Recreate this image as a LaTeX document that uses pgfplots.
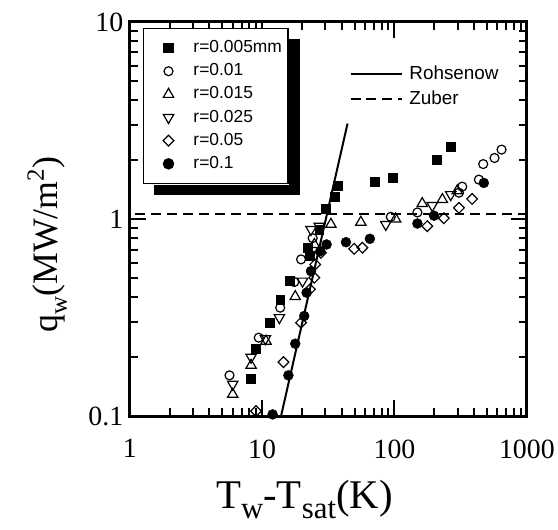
\documentclass[border=0pt]{standalone}
\usepackage{fontspec}
\setmainfont{Liberation Serif}
\newfontfamily\arial{Liberation Sans}
\usepackage{pgfplots}
\pgfplotsset{compat=1.18}
\begin{document}
\begin{tikzpicture}
\begin{axis}[name=main, scale only axis, width=398bp, height=395bp,
 xmode=log, ymode=log, xmin=1, xmax=1000, ymin=0.1, ymax=10,
 xtick={1,10,100,1000}, xticklabels={1,10,100,1000},
 ytick={0.1,1,10}, yticklabels={0.1,1,10},
 tick label style={font=\fontsize{28}{28}\selectfont},
 xticklabel style={yshift=-20bp},
 yticklabel style={xshift=-3bp},
 major tick length=16bp, minor tick length=8bp,
 tick style={black, line width=2bp},
 axis line style={line width=3bp},
 clip=false,
 xlabel={T\raisebox{-10bp}{\fontsize{31}{31}\selectfont w}-T\raisebox{-10bp}{\fontsize{31}{31}\selectfont sat}(K)},
 ylabel={q\raisebox{-9bp}{\fontsize{25}{25}\selectfont w}(MW/m\raisebox{14bp}{\fontsize{25}{25}\selectfont 2})},
 xlabel style={font=\fontsize{41}{41}\selectfont, at={(axis description cs:0.44,-0.235)}, anchor=base},
 ylabel style={font=\fontsize{36}{36}\selectfont, at={(axis description cs:-0.181,0.435)}, anchor=base},
 legend style={name=leg, at={(0.033,0.985)}, anchor=north west, draw=black, line width=1.5bp, fill=white,
   font=\arial\fontsize{17.5}{17.5}\selectfont, row sep=4.2bp, column sep=2bp,
   inner xsep=4bp, inner ysep=10bp,
   nodes={inner xsep=2bp, inner ysep=2bp, text height=12bp, text depth=3bp},
   cells={anchor=west}},
 legend cell align=left,
 legend image code/.code={\path[draw=none, fill=none] (0bp,-5bp) rectangle (42bp,5bp);
   \draw[mark repeat=2, mark phase=2, #1] plot coordinates {(0bp,0bp)(21bp,0bp)(42bp,0bp)};}
]
\addplot[only marks, mark=square*, mark size=4.5bp, black] coordinates {
(8.16,0.154)(8.9,0.220)(11.5,0.298)(13.7,0.388)(16.3,0.484)(22.1,0.715)(22.8,0.648)(27,0.885)(30.4,1.126)(35.1,1.30)(37.1,1.47)(71.4,1.54)(96.5,1.62)(207,2.0)(266,2.34)};
\addlegendentry{r=0.005mm}
\addplot[only marks, mark=o, mark size=4.5bp, black, line width=1.2bp, mark options={fill=white}] coordinates {
(5.67,0.161)(9.43,0.250)(13.7,0.355)(17.5,0.479)(19.7,0.624)(24.1,0.80)(93.8,1.026)(149,1.08)(307,1.36)(325,1.46)(434,1.585)(468,1.90)(570,2.04)(644,2.25)};
\addlegendentry{r=0.01}
\addplot[only marks, mark=triangle, mark size=6bp, black, line width=1.2bp] coordinates {
(6.0,0.129)(8.26,0.181)(10.7,0.240)(17.8,0.404)(24.8,0.743)(33.1,0.94)(55.7,0.963)(102,1.0)(162,1.198)(230,1.255)(298,1.39)};
\addlegendentry{r=0.015}
\addplot[only marks, mark=triangle, mark size=6bp, black, line width=1.2bp, mark options={rotate=180}] coordinates {
(6.0,0.145)(8.26,0.199)(10.6,0.247)(13.5,0.316)(20.2,0.484)(23.4,0.885)(27,0.92)(86,0.938)(193,1.17)(266,1.33)};
\addlegendentry{r=0.025}
\addplot[only marks, mark=square, mark size=3.8bp, black, line width=1.2bp, mark options={rotate=45}] coordinates {
(9.0,0.106)(14.5,0.188)(19.7,0.298)(23,0.44)(24.8,0.504)(25.2,0.588)(27.8,0.674)(49.6,0.706)(57.3,0.715)(177,0.92)(236,1.01)(307,1.14)(386,1.265)};
\addlegendentry{r=0.05}
\addplot[only marks, mark=*, mark size=5bp, black] coordinates {
(12.0,0.102)(15.8,0.161)(17.8,0.233)(20.8,0.322)(21.7,0.423)(23.4,0.544)(27.5,0.687)(30.7,0.743)(43,0.763)(65.2,0.794)(149,0.949)(199,1.04)(473,1.525)};
\addlegendentry{r=0.1}
\end{axis}
\fill[black] ([xshift=0.75bp, yshift=-11bp]leg.north east) rectangle ([xshift=11bp, yshift=-11bp]leg.south east);
\fill[black] ([xshift=11bp, yshift=-0.75bp]leg.south west) rectangle ([xshift=11bp, yshift=-11bp]leg.south east);
\begin{axis}[at={(main.south west)}, anchor=south west, scale only axis, width=398bp, height=395bp,
 xmode=log, ymode=log, xmin=1, xmax=1000, ymin=0.1, ymax=10, hide axis, clip=false,
 legend style={at={(0.553,0.896)}, anchor=north west, draw=none, fill=none, inner sep=0bp,
   font=\arial\fontsize{19}{19}\selectfont, row sep=3bp, column sep=4bp,
   nodes={inner xsep=2bp, inner ysep=2bp, text height=14bp, text depth=4bp},
   cells={anchor=west}},
 legend image code/.code={\draw[#1] (0bp,0bp) -- (52bp,0bp);},
 legend cell align=left]
\addplot[black, line width=2bp] coordinates {(13.9,0.1) (44.2,3.05)};
\addlegendentry{Rohsenow}
\addplot[black, line width=1.8bp, dash pattern=on 10bp off 6bp] coordinates {(1.1,1.06) (1000,1.06)};
\addlegendentry{Zuber}
\end{axis}
\path (main.south west) ++(-130bp,-114bp) rectangle ++(558bp,531bp);
\end{tikzpicture}
\end{document}
